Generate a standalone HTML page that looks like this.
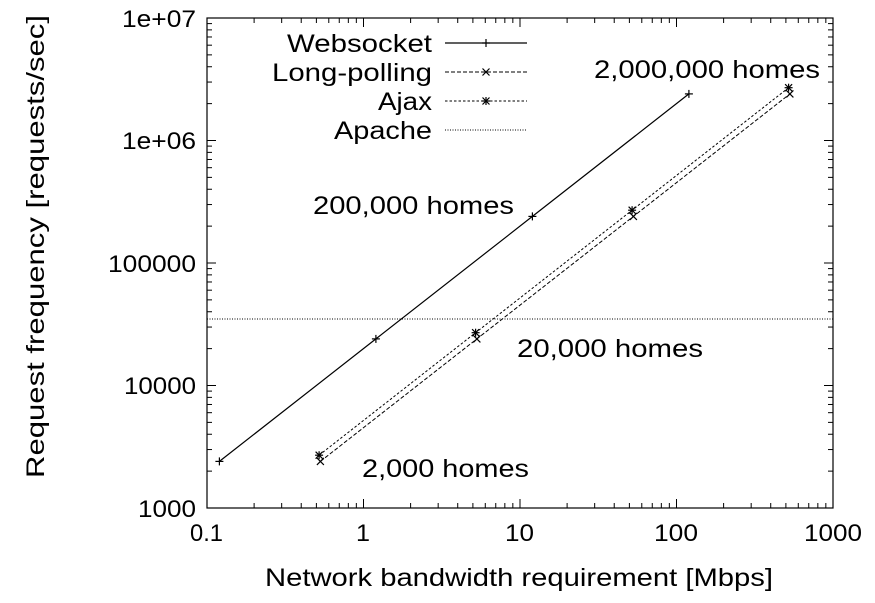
<!DOCTYPE html>
<html><head><meta charset="utf-8"><style>
html,body{margin:0;padding:0;background:#fff;}
svg{display:block;font-family:"Liberation Sans",sans-serif;}
</style></head><body>
<svg id="s" width="875" height="603" viewBox="0 0 875 603" xmlns="http://www.w3.org/2000/svg">
<rect x="207" y="18" width="626" height="490" fill="none" stroke="#000" stroke-width="1.2"/>
<g id="ticks" stroke="#000" stroke-width="1"></g>
<g font-size="24" fill="#000" lengthAdjust="spacingAndGlyphs">
<text x="190" y="541" textLength="33" lengthAdjust="spacingAndGlyphs">0.1</text>
<text x="356" y="541" textLength="14" lengthAdjust="spacingAndGlyphs">1</text>
<text x="505" y="541" textLength="29" lengthAdjust="spacingAndGlyphs">10</text>
<text x="654" y="541" textLength="44" lengthAdjust="spacingAndGlyphs">100</text>
<text x="804" y="541" textLength="58" lengthAdjust="spacingAndGlyphs">1000</text>
<text x="122" y="27" textLength="74" lengthAdjust="spacingAndGlyphs">1e+07</text>
<text x="122" y="149" textLength="74" lengthAdjust="spacingAndGlyphs">1e+06</text>
<text x="108" y="272" textLength="88" lengthAdjust="spacingAndGlyphs">100000</text>
<text x="124" y="394" textLength="72" lengthAdjust="spacingAndGlyphs">10000</text>
<text x="138" y="517" textLength="58" lengthAdjust="spacingAndGlyphs">1000</text>
</g>
<text x="265" y="586" font-size="25" textLength="508" lengthAdjust="spacingAndGlyphs">Network bandwidth requirement [Mbps]</text>
<text transform="translate(44,478) rotate(-90)" font-size="25" textLength="463" lengthAdjust="spacingAndGlyphs">Request frequency [requests/sec]</text>
<line x1="207" y1="319" x2="833" y2="319" stroke="#000" stroke-width="1" stroke-dasharray="1,1.5"/>
<polyline points="219.4,461.4 375.9,338.9 532.4,216.4 688.9,93.9" fill="none" stroke="#000" stroke-width="1.2"/>
<polyline points="320.4,461.4 476.9,338.9 633.4,216.4 789.9,93.9" fill="none" stroke="#000" stroke-width="1" stroke-dasharray="4,2"/>
<polyline points="319.1,455.2 475.6,332.7 632.1,210.2 788.6,87.7" fill="none" stroke="#000" stroke-width="1" stroke-dasharray="2.5,2"/>
<g id="marks" stroke="#000" stroke-width="1.2"></g>
<g font-size="25">
<text x="287" y="52" textLength="145" lengthAdjust="spacingAndGlyphs">Websocket</text>
<text x="272" y="81" textLength="160" lengthAdjust="spacingAndGlyphs">Long-polling</text>
<text x="378" y="110" textLength="54" lengthAdjust="spacingAndGlyphs">Ajax</text>
<text x="334" y="139" textLength="98" lengthAdjust="spacingAndGlyphs">Apache</text>
</g>
<line x1="445" y1="43" x2="527" y2="43" stroke="#000" stroke-width="1.2"/>
<line x1="445" y1="72" x2="527" y2="72" stroke="#000" stroke-dasharray="4,2"/>
<line x1="445" y1="101" x2="527" y2="101" stroke="#000" stroke-dasharray="2.5,2"/>
<line x1="445" y1="130" x2="527" y2="130" stroke="#000" stroke-dasharray="1,1.5"/>
<g font-size="25">
<text x="594" y="78" textLength="226" lengthAdjust="spacingAndGlyphs">2,000,000 homes</text>
<text x="313" y="214" textLength="201" lengthAdjust="spacingAndGlyphs">200,000 homes</text>
<text x="517" y="357" textLength="186" lengthAdjust="spacingAndGlyphs">20,000 homes</text>
<text x="362" y="477" textLength="167" lengthAdjust="spacingAndGlyphs">2,000 homes</text>
</g>
<script>
var NS="http://www.w3.org/2000/svg";
function L(g,x1,y1,x2,y2){var l=document.createElementNS(NS,"line");l.setAttribute("x1",x1);l.setAttribute("y1",y1);l.setAttribute("x2",x2);l.setAttribute("y2",y2);g.appendChild(l);}
var t=document.getElementById("ticks");
for(var d=0;d<4;d++){for(var k=1;k<10;k++){var f=Math.log10(k);var len=k==1?9:5;
var x=207+156.5*(d+f);L(t,x,508,x,508-len);L(t,x,18,x,18+len);
var y=508-122.5*(d+f);L(t,207,y,207+len,y);L(t,833,y,833-len,y);}}
var m=document.getElementById("marks");
function plus(x,y){L(m,x-4,y,x+4,y);L(m,x,y-4,x,y+4);}
function cross(x,y){L(m,x-3.5,y-3.5,x+3.5,y+3.5);L(m,x-3.5,y+3.5,x+3.5,y-3.5);}
function star(x,y){plus(x,y);cross(x,y);}
[[219.4,461.4],[375.9,338.9],[532.4,216.4],[688.9,93.9],[486,43]].forEach(function(p){plus(p[0],p[1]);});
[[320.4,461.4],[476.9,338.9],[633.4,216.4],[789.9,93.9],[486,72]].forEach(function(p){cross(p[0],p[1]);});
[[319.1,455.2],[475.6,332.7],[632.1,210.2],[788.6,87.7],[486,101]].forEach(function(p){star(p[0],p[1]);});
</script>
</svg>
</body></html>
